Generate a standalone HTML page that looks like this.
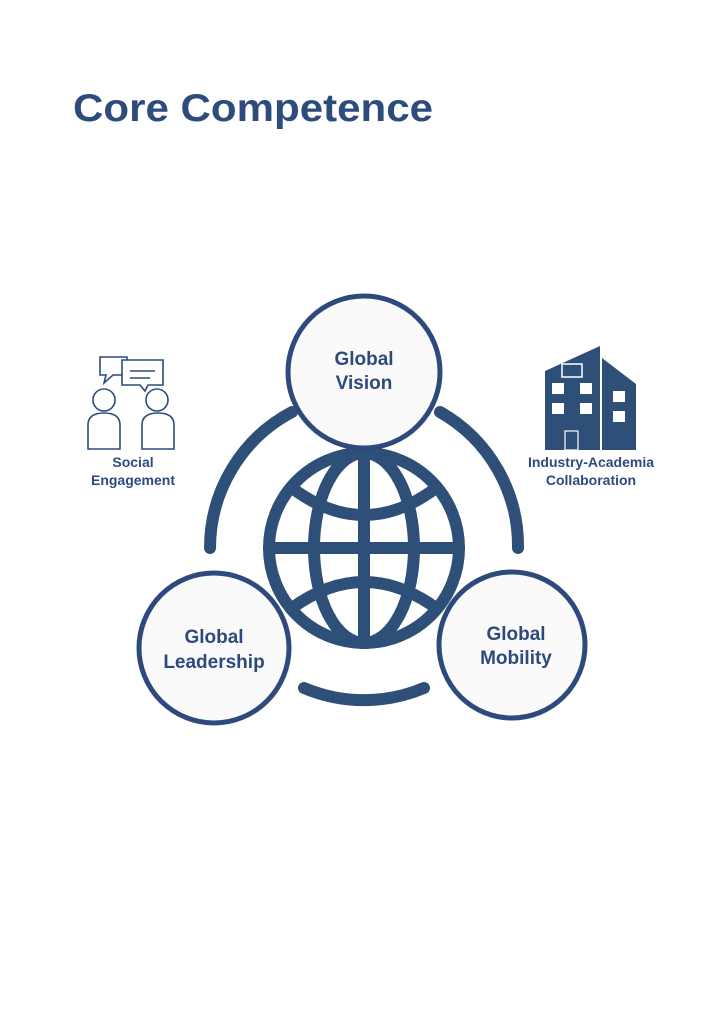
<!DOCTYPE html>
<html><head><meta charset="utf-8"><style>
html,body{margin:0;padding:0;background:#fff;}
svg{display:block;}
</style></head><body>
<svg width="722" height="1024" viewBox="0 0 722 1024" xmlns="http://www.w3.org/2000/svg" font-family="Liberation Sans, sans-serif">
<rect width="722" height="1024" fill="#fff"/>
<text x="73" y="121" font-size="39" font-weight="bold" fill="#2e4b7e" textLength="360" lengthAdjust="spacingAndGlyphs">Core Competence</text>
<g stroke="#2d4f78" fill="none" stroke-linecap="round">
  <path d="M292 412 A154 154 0 0 0 210 548" stroke-width="12"/>
  <path d="M440 412 A154 154 0 0 1 518 548" stroke-width="12"/>
  <path d="M304 688 A154 154 0 0 0 424 688" stroke-width="12"/>
  <circle cx="364" cy="548" r="95" stroke-width="12"/>
  <ellipse cx="364" cy="548" rx="50" ry="95" stroke-width="12"/>
  <line x1="364" y1="453" x2="364" y2="643" stroke-width="12"/>
  <line x1="269" y1="548" x2="459" y2="548" stroke-width="12"/>
  <path d="M292 488 Q364 542 436 488" stroke-width="12"/>
  <path d="M292 608 Q364 556 436 608" stroke-width="12"/>
</g>
<g stroke="#2e4a7d" stroke-width="5" fill="#fafafa">
  <circle cx="364" cy="372" r="76"/>
  <circle cx="214" cy="648" r="75"/>
  <circle cx="512" cy="645" r="73"/>
</g>
<g fill="#2e4a7d" font-weight="bold" font-size="19" text-anchor="middle">
  <text x="364" y="365">Global</text><text x="364" y="389">Vision</text>
  <text x="214" y="643">Global</text><text x="214" y="668">Leadership</text>
  <text x="516" y="640">Global</text><text x="516" y="664">Mobility</text>
  <text x="133" y="467" font-size="14">Social</text>
  <text x="133" y="485" font-size="14">Engagement</text>
  <text x="591" y="467" font-size="14">Industry-Academia</text>
  <text x="591" y="485" font-size="14">Collaboration</text>
</g>
<g stroke="#2e4a7d" stroke-width="1.6" fill="#fff">
  <path d="M100 357 H127 V375 H113 L104 383 L106 375 H100 Z"/>
  <path d="M122 360 H163 V385 H148 L145 391 L140 385 H122 Z"/>
  <line x1="130" y1="371" x2="155" y2="371"/><line x1="130" y1="378" x2="150" y2="378"/>
  <circle cx="104" cy="400" r="11"/>
  <circle cx="157" cy="400" r="11"/>
  <path d="M88 449 V425 Q88 413 104 413 Q120 413 120 425 V449 Z"/>
  <path d="M142 449 V425 Q142 413 158 413 Q174 413 174 425 V449 Z"/>
</g>
<g fill="#2d4f78">
  <path d="M545 371 L600 346 V450 H545 Z"/>
  <path d="M602 358 L636 384 V450 H602 Z"/>
</g>
<g fill="#fff">
  <rect x="552" y="383" width="12" height="11"/><rect x="580" y="383" width="12" height="11"/>
  <rect x="552" y="403" width="12" height="11"/><rect x="580" y="403" width="12" height="11"/>
  <rect x="613" y="391" width="12" height="11"/><rect x="613" y="411" width="12" height="11"/>
</g>
<rect x="565" y="431" width="13" height="19" fill="none" stroke="#fff" stroke-width="1.2"/>
<rect x="562" y="364" width="20" height="13" fill="none" stroke="#fff" stroke-width="1.5"/>
</svg>
</body></html>
